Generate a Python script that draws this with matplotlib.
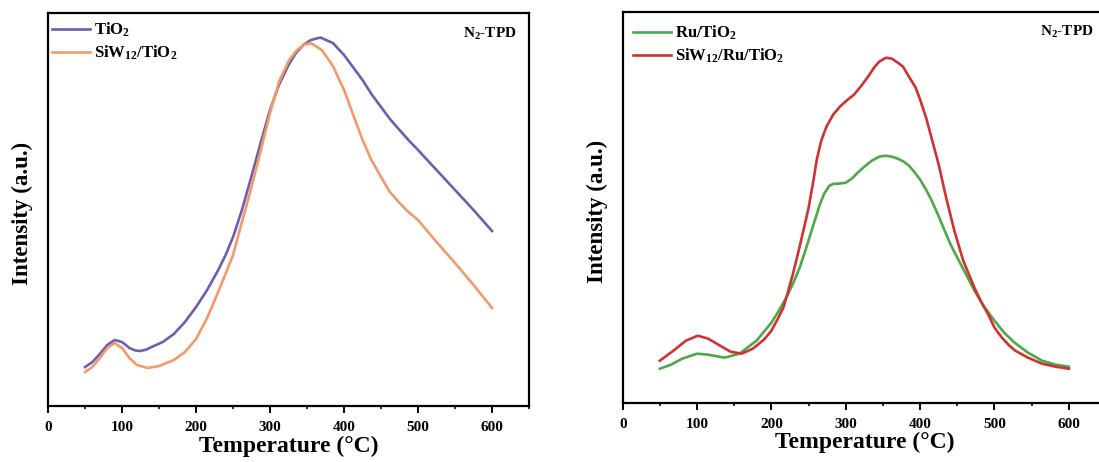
import matplotlib

matplotlib.use("Agg")
import matplotlib.pyplot as plt
from matplotlib.ticker import MultipleLocator, NullLocator

# N2-TPD profiles (intensity in arbitrary units)
temp_a = [50, 60, 70, 80, 90, 100, 110, 118, 125, 133, 140, 155, 170, 185, 200, 215, 230,
          240, 250, 262, 275, 288, 300, 312, 325, 335, 345, 355, 368, 385, 400, 412, 425,
          437, 450, 462, 475, 487, 500, 525, 550, 575, 600]
tio2 = [39, 44, 52, 61, 66, 64, 58, 55.5, 55, 56.5, 59, 64, 72, 84, 99, 116, 136,
        151, 169, 196, 230, 265, 296, 321, 341, 353, 361, 366, 368.5, 363, 351, 339, 326,
        312, 299, 287, 276, 266, 256, 236, 216, 196, 175]

temp_b = [50, 60, 70, 80, 90, 100, 110, 120, 135, 150, 170, 185, 200, 215, 230, 250, 262,
          275, 288, 300, 312, 325, 335, 345, 355, 370, 385, 400, 412, 425, 437, 450, 462,
          475, 487, 500, 525, 550, 575, 600]
siw_tio2 = [34, 39, 48, 58, 63, 58, 48, 41, 38, 40, 46, 54, 67, 88, 114, 151, 184,
            219, 257, 293, 324, 345, 355, 361, 363, 356, 340, 316, 292, 266, 246, 229, 214,
            203, 194, 186, 164, 143, 121, 98]

temp_c = [50, 65, 80, 100, 115, 137, 157, 180, 200, 210, 220, 229, 238, 246, 254, 260,
          265, 271, 278, 284, 290, 300, 308, 316, 325, 335, 345, 353, 362, 370, 378, 385,
          392, 400, 408, 415, 424, 433, 441, 450, 462, 473, 486, 500, 513, 527, 545, 564,
          582, 600]
ru_tio2 = [34, 38, 44, 49, 48, 45, 49, 62, 80, 92, 105, 119, 135, 153, 172, 186,
           198, 209, 217, 219, 219, 220, 224, 230, 236, 242, 246, 247, 246, 244, 241, 237,
           231, 223, 213, 203, 188, 172, 158, 145, 128, 112, 96, 82, 70, 60, 50, 42,
           38, 36]

temp_d = [50, 70, 85, 101, 115, 131, 145, 160, 175, 190, 200, 208, 216, 222, 229, 236,
          243, 250, 256, 261, 267, 274, 283, 292, 301, 311, 320, 330, 338, 345, 354, 362,
          370, 377, 385, 394, 400, 408, 416, 425, 435, 446, 458, 473, 482, 491, 500, 510,
          520, 528, 545, 564, 582, 600]
siw_ru_tio2 = [42, 53, 62, 67, 64, 57, 51, 49, 54, 63, 72, 83, 95, 110, 129, 150,
               172, 195, 220, 243, 262, 276, 288, 296, 302, 308, 316, 326, 335, 341, 345, 344,
               340, 336, 326, 315, 303, 285, 263, 238, 205, 172, 142, 115, 101, 89, 75, 65,
               57, 52, 45, 39, 36, 34]

plt.rcParams["font.family"] = "Liberation Serif"
plt.rcParams["font.weight"] = "bold"
plt.rcParams["mathtext.fontset"] = "custom"
plt.rcParams["mathtext.rm"] = "Liberation Serif:bold"
plt.rcParams["mathtext.bf"] = "Liberation Serif:bold"
plt.rcParams["mathtext.it"] = "Liberation Serif:bold"

fig = plt.figure(figsize=(10.99, 4.62), dpi=100)
ax1 = fig.add_axes([0.0437, 0.1212, 0.4377, 0.8506])
ax2 = fig.add_axes([0.5666, 0.1284, 0.4398, 0.8463])

ax1.plot(temp_a, tio2, color="#6f5db0", lw=1.9, label="TiO$_2$")
ax1.plot(temp_b, siw_tio2, color="#f29a6b", lw=1.9, label="SiW$_{12}$/TiO$_2$")
ax2.plot(temp_c, ru_tio2, color="#4ea84a", lw=1.9, label="Ru/TiO$_2$")
ax2.plot(temp_d, siw_ru_tio2, color="#cf3232", lw=1.9, label="SiW$_{12}$/Ru/TiO$_2$")

for ax, ylim, leg_xy in [(ax1, 393, (0.008, 0.98)), (ax2, 391, (0.021, 0.969))]:
    ax.set_xlim(0, 650)
    ax.set_ylim(0, ylim)
    ax.xaxis.set_major_locator(MultipleLocator(100))
    ax.xaxis.set_minor_locator(MultipleLocator(50))
    ax.yaxis.set_major_locator(NullLocator())
    ax.tick_params(axis="x", which="major", direction="out", length=5, width=1.4,
                   labelsize=11, pad=6)
    ax.tick_params(axis="x", which="minor", direction="out", length=2.5, width=1.2)
    for spine in ax.spines.values():
        spine.set_linewidth(1.6)
    ax.set_xlabel("Temperature (°C)", fontsize=17, fontweight="bold")
    ax.set_ylabel("Intensity (a.u.)", fontsize=16.5, fontweight="bold")
    ax.yaxis.set_label_coords(-0.031, 0.49)
    ax.xaxis.set_label_coords(0.5, -0.075)
    ax.legend(loc="upper left", bbox_to_anchor=leg_xy, frameon=False, fontsize=12,
              borderpad=0, borderaxespad=0, handlelength=2.3, handletextpad=0.2,
              labelspacing=0.25)
    ax.text(0.975, 0.947, "N$_2$-TPD", transform=ax.transAxes, ha="right", va="center",
            fontsize=11, fontweight="bold")

fig.savefig("out.png", dpi=100)
